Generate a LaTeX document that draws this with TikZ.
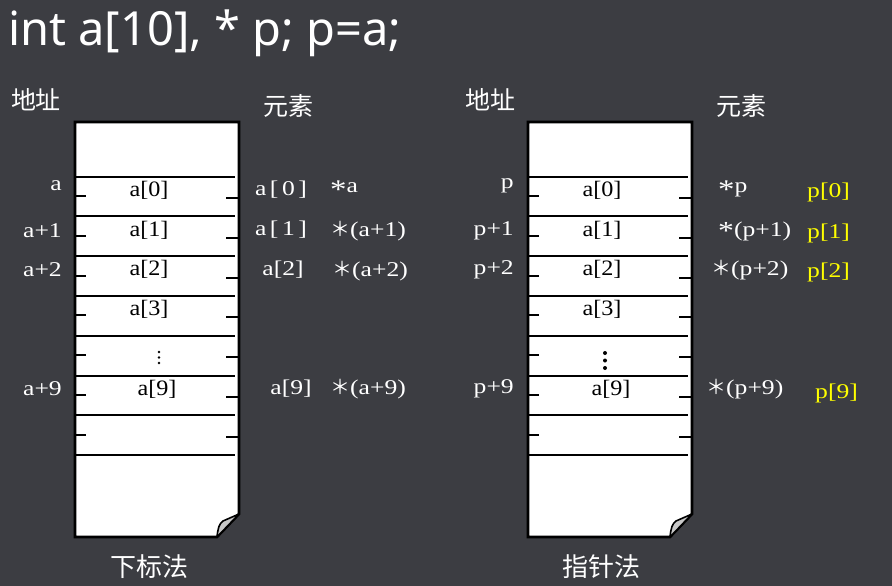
\documentclass[tikz,border=0pt]{standalone}
\usepackage{fontspec}
\setmainfont{Liberation Serif}
\newfontfamily\cjk{Noto Sans CJK SC}
\newfontfamily\titlefont{Noto Sans}
\newfontfamily\lserif[FakeStretch=1.22]{Liberation Serif}
\newfontfamily\bserif[FakeStretch=1.1]{Liberation Serif}
\definecolor{bg}{RGB}{60,61,66}
\definecolor{yel}{RGB}{255,255,0}
\definecolor{foldgray}{RGB}{200,200,200}
\newcommand\bigast{{\cjk\fontsize{20}{20}\selectfont ＊}}
\newcommand\lowast{\raisebox{-6pt}{\fontsize{27}{27}\selectfont *}}
\tikzset{
  boxtxt/.style={font=\bserif\fontsize{22}{24}\selectfont, text=black, inner sep=0pt},
  lab/.style={font=\lserif\fontsize{21}{24}\selectfont, text=white, inner sep=0pt},
  ylab/.style={lab, text=yel},
  cj/.style={font=\cjk\fontsize{25}{28}\selectfont, text=white, inner sep=0pt},
  memline/.style={line width=2.6pt, black},
  tick/.style={line width=2pt, black},
  memframe/.style={line width=2.6pt, black, fill=white, line join=miter},
}
\begin{document}
\begin{tikzpicture}[x=1pt,y=-1pt]
\fill[bg] (0,0) rectangle (892,586);
\useasboundingbox (0,0) rectangle (892,586);

\node[anchor=west, text=white, inner sep=0pt, font=\titlefont\fontsize{47}{52}\selectfont] (title) at (8,33) {int a[10], * p; p=a;};

% two memory blocks
\foreach \sx/\nm in {0/L, 453/R}{
\begin{scope}[xshift=\sx pt]
  \draw[memframe] (75,122) -- (239,122) -- (239,514) -- (217,537) -- (75,537) -- cycle;
  \filldraw[line width=1.6pt, fill=foldgray, line join=round] (239,514) -- (217,537) .. controls (218,528) and (219,524) .. (223,521) -- cycle;
  \foreach \yy in {177,216,256,296,336,376,415,455}{
    \draw[memline] (75,\yy) -- (235,\yy);
  }
  \foreach \i in {0,...,6}{
    \draw[tick] (75,{196+39.8*\i}) -- (86,{196+39.8*\i});
    \draw[tick] (226,{198+39.8*\i}) -- (238,{198+39.8*\i});
  }
\end{scope}
}

% vertical ellipsis dots
\foreach \yy in {352,357.5,363} \fill[black] (159,\yy) circle (1.4);
\foreach \yy in {353,360.5,368} \fill[black] (605,\yy) circle (2);

% left block contents
\node[boxtxt] (la0) at (149,190) {a[0]};
\node[boxtxt] (la1) at (149,230) {a[1]};
\node[boxtxt] (la2) at (149,269) {a[2]};
\node[boxtxt] (la3) at (149,309) {a[3]};
\node[boxtxt] (la9) at (157,389) {a[9]};

% right block contents
\node[boxtxt] (ra0) at (602,190) {a[0]};
\node[boxtxt] (ra1) at (602,230) {a[1]};
\node[boxtxt] (ra2) at (602,269) {a[2]};
\node[boxtxt] (ra3) at (602,309) {a[3]};
\node[boxtxt] (ra9) at (611,389) {a[9]};

% headers
\node[cj] (addrL) at (36,100) {地址};
\node[cj] (elemL) at (288,106) {元素};
\node[cj] (addrR) at (490,100) {地址};
\node[cj] (elemR) at (741,106) {元素};
\node[cj, font=\cjk\fontsize{26}{28}\selectfont] (capL) at (149,567) {下标法};
\node[cj, font=\cjk\fontsize{26}{28}\selectfont] (capR) at (601,567) {指针法};

% left addresses
\node[lab, anchor=east] (adA) at (62,186) {a};
\node[lab, anchor=east] (adA1) at (62,231) {a+1};
\node[lab, anchor=east] (adA2) at (62,270) {a+2};
\node[lab, anchor=east] (adA9) at (62,389) {a+9};

% right addresses
\node[lab, anchor=east] (adP) at (514,186) {p};
\node[lab, anchor=east] (adP1) at (514,231) {p+1};
\node[lab, anchor=east] (adP2) at (514,270) {p+2};
\node[lab, anchor=east] (adP9) at (514,389) {p+9};

% left elements
\node[lab] (ea0) at (281,190) {a\,[\,0\,]};
\node[lab, anchor=west] (sa0) at (330,190) {\lowast a};
\node[lab] (ea1) at (281,230) {a\,[\,1\,]};
\node[lab, anchor=west] (sa1) at (330,231) {\bigast(a+1)};
\node[lab] (ea2) at (283,270) {a[2]};
\node[lab, anchor=west] (sa2) at (332,271) {\bigast(a+2)};
\node[lab] (ea9) at (291,389) {a[9]};
\node[lab, anchor=west] (sa9) at (330,389) {\bigast(a+9)};

% right elements
\node[lab, anchor=west] (sp0) at (718,190) {\lowast p};
\node[ylab, anchor=west] (pp0) at (807,192) {p[0]};
\node[lab, anchor=west] (sp1) at (718,231) {\raisebox{-3pt}{\fontsize{26}{26}\selectfont *}(p+1)};
\node[ylab, anchor=west] (pp1) at (807,233) {p[1]};
\node[lab, anchor=west] (sp2) at (711,270) {\bigast(p+2)};
\node[ylab, anchor=west] (pp2) at (807,272) {p[2]};
\node[lab, anchor=west] (sp9) at (706,389) {\bigast(p+9)};
\node[ylab, anchor=west] (pp9) at (815,393) {p[9]};
\end{tikzpicture}
\end{document}
